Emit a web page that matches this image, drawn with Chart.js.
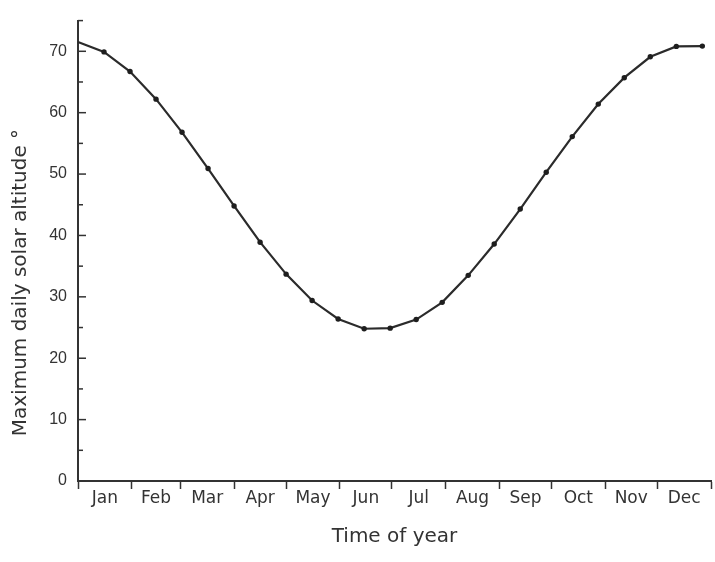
<!DOCTYPE html>
<html>
<head>
<meta charset="utf-8">
<script src="https://cdn.jsdelivr.net/npm/chart.js@4.4.1/dist/chart.umd.min.js"></script>
<style>
  html, body { margin: 0; padding: 0; background: #fff; }
  #wrap { width: 715px; height: 562px; }
</style>
</head>
<body>
<div id="wrap"><canvas id="solarChart" width="715" height="562"></canvas></div>
<script>
// day of year of each point (every 15 days) and the max solar altitude
const days = [0, 15, 30, 45, 60, 75, 90, 105, 120, 135, 150, 165, 180,
              195, 210, 225, 240, 255, 270, 285, 300, 315, 330, 345, 360];
const altitude = [71.5, 69.9, 66.7, 62.2, 56.8, 50.9, 44.8, 38.9, 33.7, 29.4, 26.4, 24.8, 24.9,
                  26.3, 29.1, 33.5, 38.6, 44.3, 50.3, 56.1, 61.4, 65.7, 69.1, 70.8, 70.85];

const months = ['Jan', 'Feb', 'Mar', 'Apr', 'May', 'Jun', 'Jul', 'Aug', 'Sep', 'Oct', 'Nov', 'Dec'];
const monthStarts = [0, 31, 59, 90, 120, 151, 181, 212, 243, 273, 304, 334, 365];
const yTicks = [0, 10, 20, 30, 40, 50, 60, 70];

const ink = '#333';

// month name sits in the middle of each month
const midLabel = {};
months.forEach((m, i) => { midLabel[(monthStarts[i] + monthStarts[i + 1]) / 2] = m; });
const isBoundary = v => monthStarts.indexOf(v) !== -1;

// y axis ticks point inwards, so draw them ourselves from the scale
const inwardTicks = {
    id: 'inwardTicks',
    afterDraw(chart) {
        const y = chart.scales.y;
        const left = chart.chartArea.left;
        const c = chart.ctx;
        c.save();
        c.strokeStyle = ink;
        c.lineWidth = 1.5;
        for (let v = 0; v <= 75; v += 5) {
            const py = y.getPixelForValue(v);
            const len = yTicks.indexOf(v) !== -1 ? 8 : 5;
            c.beginPath();
            c.moveTo(left, py);
            c.lineTo(left + len, py);
            c.stroke();
        }
        c.restore();
    }
};

const pts = days.map((d, i) => ({ x: d, y: altitude[i] }));

new Chart(document.getElementById('solarChart').getContext('2d'), {
    type: 'line',
    data: {
        datasets: [{
            data: pts,
            borderColor: '#2b2b2b',
            borderWidth: 2.2,
            backgroundColor: '#1e1e1e',
            pointRadius: ctx => ctx.dataIndex === 0 ? 0 : 2.7,
            pointBorderWidth: 0,
            tension: 0,
            clip: false
        }]
    },
    options: {
        responsive: false,
        animation: false,
        layout: { padding: { top: 10, right: 2, left: 0, bottom: 0 } },
        plugins: { legend: { display: false }, tooltip: { enabled: false } },
        scales: {
            x: {
                type: 'linear',
                min: 0,
                max: 365,
                afterBuildTicks: axis => {
                    const t = monthStarts.map(v => ({ value: v }));
                    Object.keys(midLabel).forEach(k => t.push({ value: +k }));
                    t.sort((a, b) => a.value - b.value);
                    axis.ticks = t;
                },
                afterFit: axis => { axis.height = 81; },
                border: { display: true, color: ink, width: 2 },
                grid: {
                    drawOnChartArea: false,
                    drawTicks: true,
                    tickLength: 8,
                    tickWidth: 1.5,
                    color: ctx => ctx.tick && isBoundary(ctx.tick.value) ? ink : 'rgba(0,0,0,0)',
                    tickColor: ctx => ctx.tick && isBoundary(ctx.tick.value) ? ink : 'rgba(0,0,0,0)'
                },
                ticks: {
                    autoSkip: false,
                    maxRotation: 0,
                    padding: -1,
                    color: ink,
                    font: { family: 'DejaVu Sans', size: 17 },
                    callback: v => midLabel[v] || ''
                },
                title: {
                    display: true,
                    text: 'Time of year',
                    color: ink,
                    font: { family: 'DejaVu Sans', size: 20 },
                    padding: { top: 0, bottom: 13 }
                }
            },
            y: {
                min: 0,
                max: 75,
                afterFit: axis => { axis.width = 78; },
                border: { display: true, color: ink, width: 2 },
                grid: { drawOnChartArea: false, drawTicks: false },
                ticks: {
                    stepSize: 5,
                    autoSkip: false,
                    padding: 11,
                    color: ink,
                    font: { family: 'Liberation Sans', size: 16 },
                    callback: v => yTicks.indexOf(v) !== -1 ? v : ''
                },
                title: {
                    display: true,
                    text: 'Maximum daily solar altitude °          ',
                    color: ink,
                    font: { family: 'DejaVu Sans', size: 20 },
                    padding: { top: 9, bottom: 0 }
                }
            }
        }
    },
    plugins: [inwardTicks]
});
</script>
</body>
</html>
